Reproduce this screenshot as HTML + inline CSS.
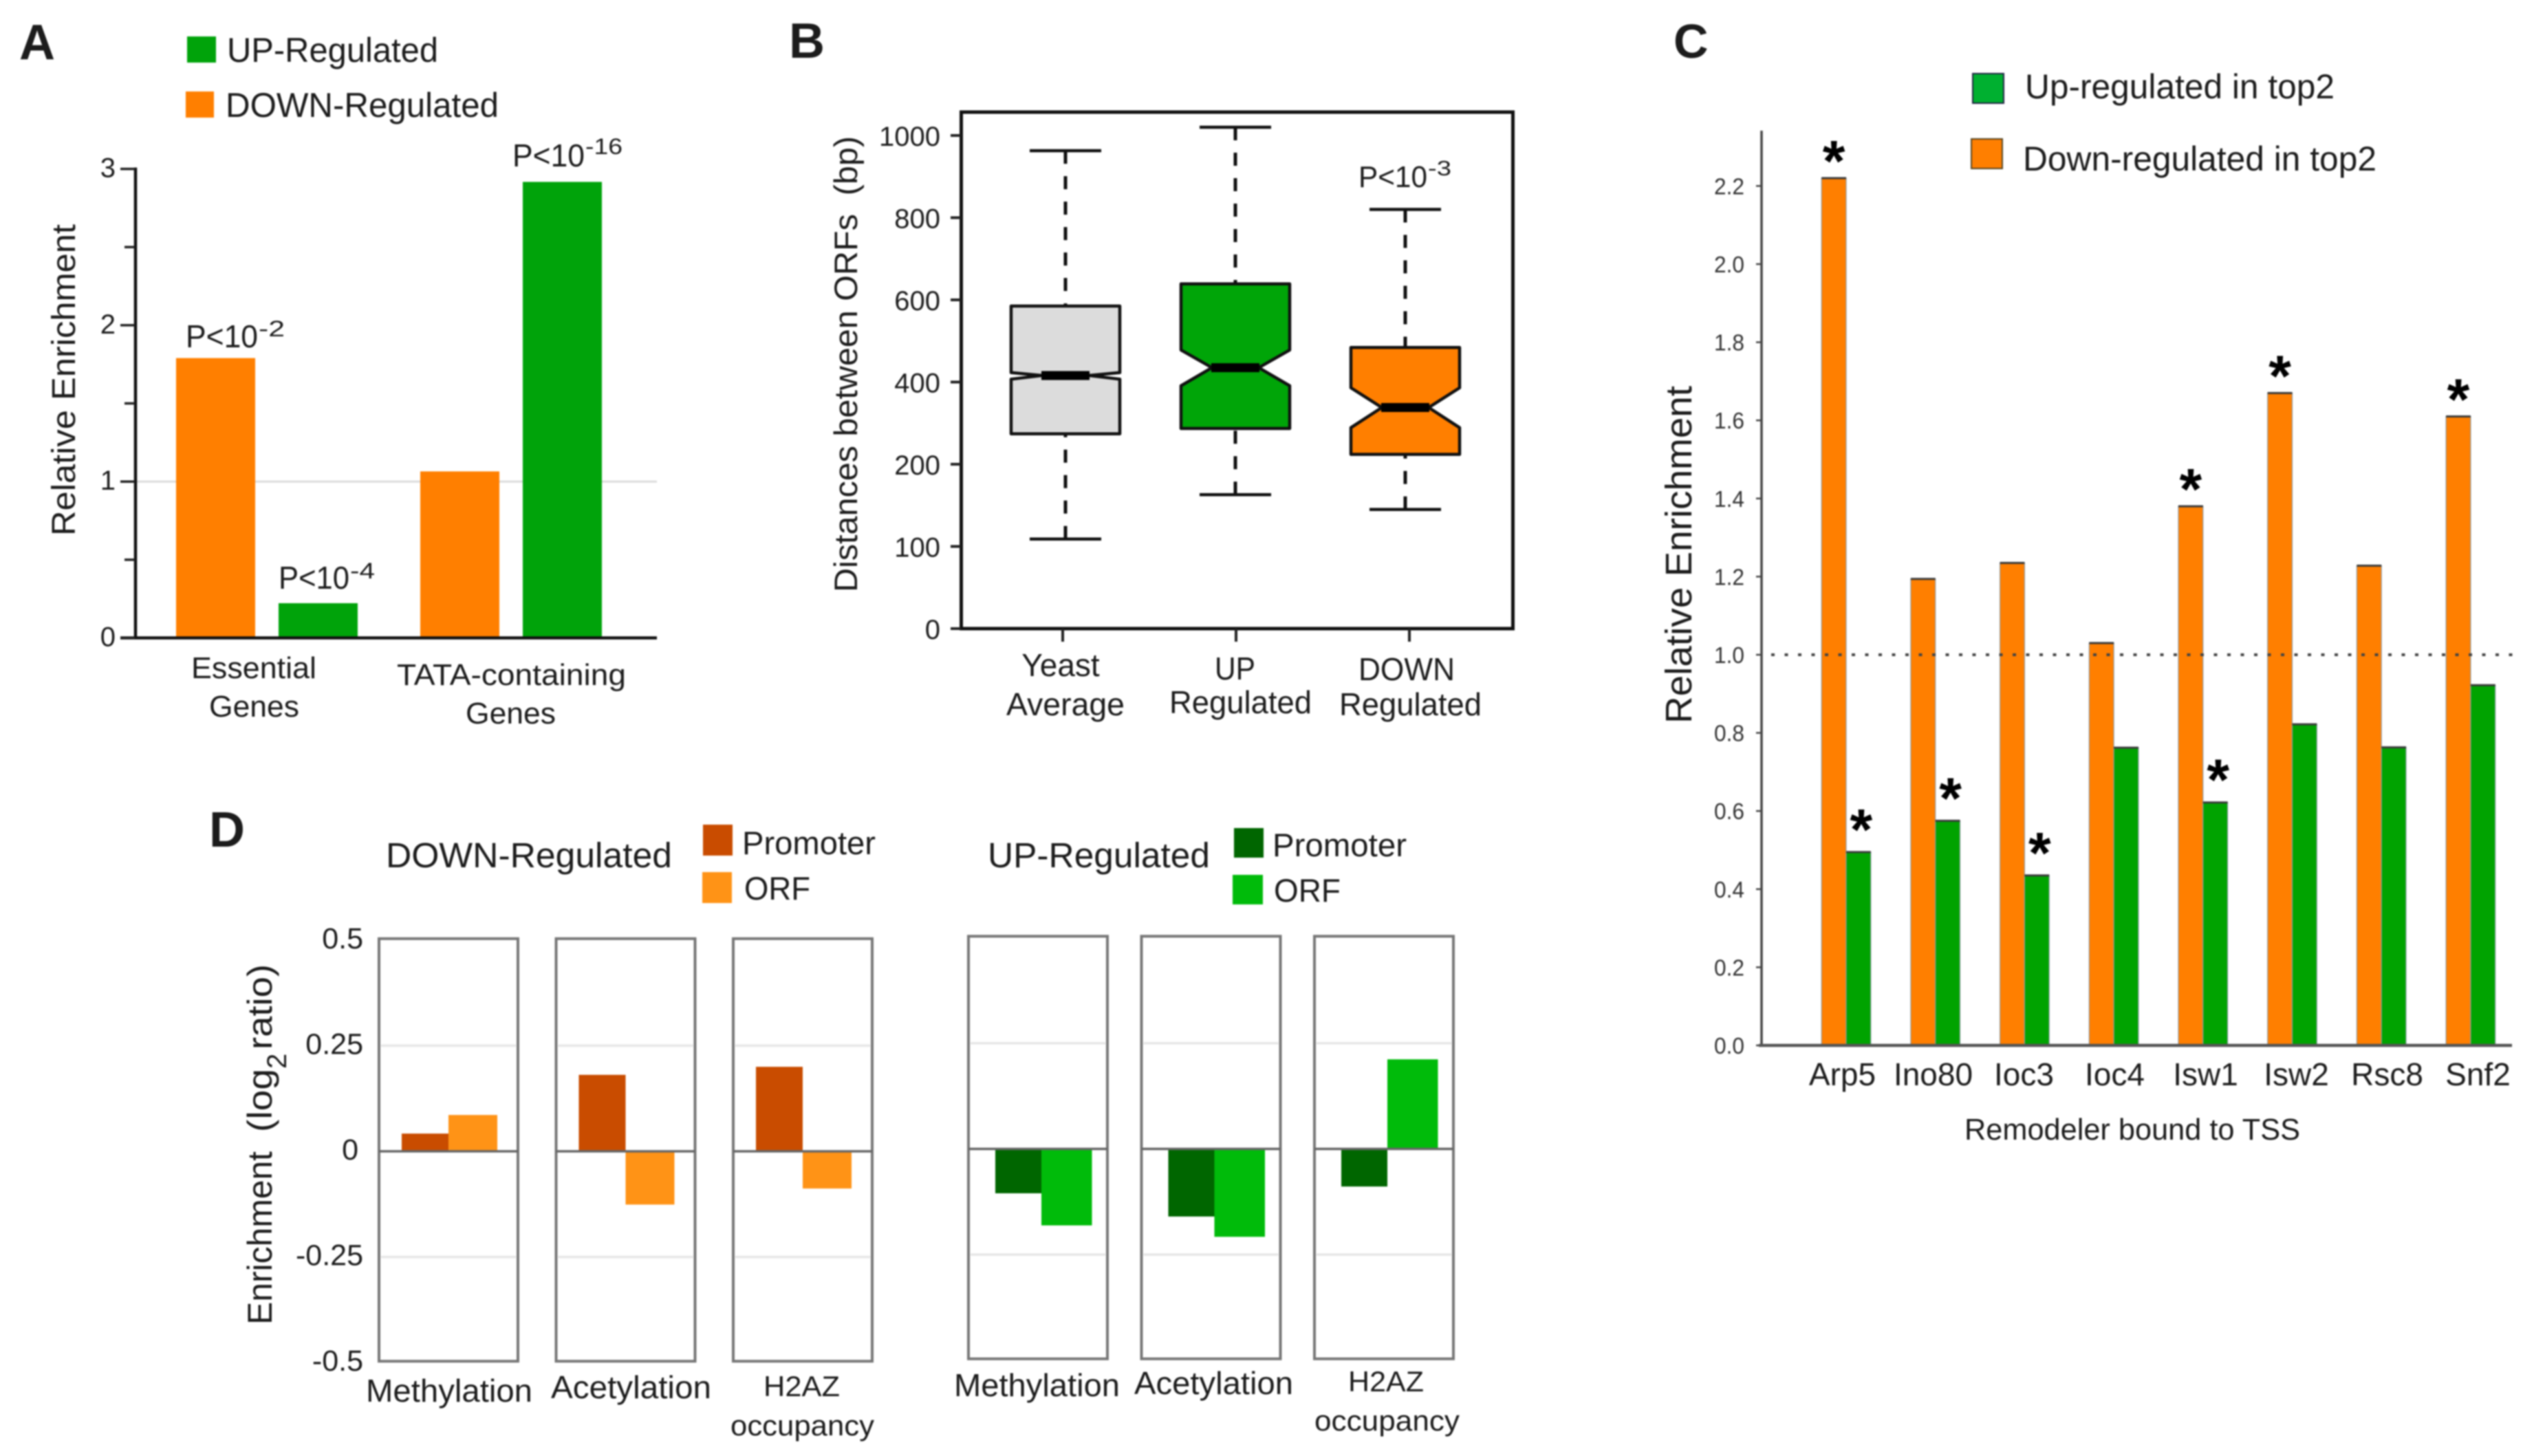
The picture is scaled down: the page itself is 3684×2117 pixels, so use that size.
<!DOCTYPE html>
<html lang="en">
<head>
<meta charset="utf-8">
<title>Multi-panel enrichment figure</title>
<style>
  html, body { margin: 0; padding: 0; background: #ffffff; }
  body { width: 3684px; height: 2117px; overflow: hidden; }
  svg { display: block; filter: blur(1.1px); }
  text { font-family: "Liberation Sans", sans-serif; fill: #1c1c1c; }
</style>
</head>
<body>
<svg id="figure" xmlns="http://www.w3.org/2000/svg" width="3684" height="2117" viewBox="0 0 3684 2117">
  <rect x="0" y="0" width="3684" height="2117" fill="#ffffff"/>

  <!-- Panel A -->
  <g id="panel-a">
    <text x="28" y="86" font-size="72" font-weight="bold" fill="#111">A</text>
    <rect x="272" y="53" width="42" height="38" fill="#00a30a"/>
    <text x="330" y="90" font-size="50" textLength="307" lengthAdjust="spacingAndGlyphs">UP-Regulated</text>
    <rect x="270" y="133" width="41" height="38" fill="#ff7f00"/>
    <text x="328" y="170" font-size="50" textLength="397" lengthAdjust="spacingAndGlyphs">DOWN-Regulated</text>
    <text transform="translate(109,779) rotate(-90)" font-size="48" textLength="453" lengthAdjust="spacingAndGlyphs">Relative Enrichment</text>
    <g id="a-plot"></g>
    <g>
      <text x="270" y="505" font-size="46" textLength="105" lengthAdjust="spacingAndGlyphs">P&lt;10</text>
      <text x="376" y="489" font-size="32" textLength="38" lengthAdjust="spacingAndGlyphs">-2</text>
    </g>
    <g>
      <text x="405" y="856" font-size="46" textLength="103" lengthAdjust="spacingAndGlyphs">P&lt;10</text>
      <text x="509" y="841" font-size="32" textLength="36" lengthAdjust="spacingAndGlyphs">-4</text>
    </g>
    <g>
      <text x="745" y="242" font-size="46" textLength="105" lengthAdjust="spacingAndGlyphs">P&lt;10</text>
      <text x="851" y="224" font-size="32" textLength="54" lengthAdjust="spacingAndGlyphs">-16</text>
    </g>
    <text x="278" y="986" font-size="44" textLength="182" lengthAdjust="spacingAndGlyphs">Essential</text>
    <text x="304" y="1042" font-size="44" textLength="131" lengthAdjust="spacingAndGlyphs">Genes</text>
    <text x="577" y="996" font-size="44" textLength="333" lengthAdjust="spacingAndGlyphs">TATA-containing</text>
    <text x="677" y="1052" font-size="44" textLength="131" lengthAdjust="spacingAndGlyphs">Genes</text>
  </g>

  <!-- Panel B -->
  <g id="panel-b">
    <text x="1147" y="84" font-size="72" font-weight="bold" fill="#111">B</text>
    <text transform="translate(1246,861) rotate(-90)" font-size="47" textLength="663" lengthAdjust="spacingAndGlyphs" xml:space="preserve">Distances between ORFs  (bp)</text>
    <g id="b-plot"></g>
    <g>
      <text x="1975" y="272" font-size="44" textLength="100" lengthAdjust="spacingAndGlyphs">P&lt;10</text>
      <text x="2076" y="255" font-size="31" textLength="34" lengthAdjust="spacingAndGlyphs">-3</text>
    </g>
    <text x="1542" y="983" font-size="46" text-anchor="middle">Yeast</text>
    <text x="1463" y="1040" font-size="46" textLength="172" lengthAdjust="spacingAndGlyphs">Average</text>
    <text x="1766" y="988" font-size="46" textLength="59" lengthAdjust="spacingAndGlyphs">UP</text>
    <text x="1700" y="1037" font-size="46" textLength="207" lengthAdjust="spacingAndGlyphs">Regulated</text>
    <text x="1975" y="989" font-size="46" textLength="140" lengthAdjust="spacingAndGlyphs">DOWN</text>
    <text x="1947" y="1040" font-size="46" textLength="207" lengthAdjust="spacingAndGlyphs">Regulated</text>
  </g>

  <!-- Panel C -->
  <g id="panel-c">
    <text x="2433" y="84" font-size="70" font-weight="bold" fill="#111">C</text>
    <rect x="2868" y="107" width="45" height="43" fill="#00b030" stroke="#224" stroke-width="2"/>
    <text x="2944" y="143" font-size="50" textLength="450" lengthAdjust="spacingAndGlyphs">Up-regulated in top2</text>
    <rect x="2866" y="202" width="45" height="43" fill="#ff7f00" stroke="#542" stroke-width="2"/>
    <text x="2941" y="248" font-size="50" textLength="514" lengthAdjust="spacingAndGlyphs">Down-regulated in top2</text>
    <text transform="translate(2459,1052) rotate(-90)" font-size="54" textLength="491" lengthAdjust="spacingAndGlyphs">Relative Enrichment</text>
    <g id="c-plot"></g>
    <text x="2856" y="1657" font-size="44" textLength="488" lengthAdjust="spacingAndGlyphs">Remodeler bound to TSS</text>
  </g>

  <!-- Panel D -->
  <g id="panel-d">
    <text x="304" y="1231" font-size="72" font-weight="bold" fill="#111">D</text>
    <text x="561" y="1261" font-size="51" textLength="416" lengthAdjust="spacingAndGlyphs">DOWN-Regulated</text>
    <rect x="1022" y="1199" width="43" height="45" fill="#c94c00"/>
    <text x="1079" y="1242" font-size="47" textLength="194" lengthAdjust="spacingAndGlyphs">Promoter</text>
    <rect x="1021" y="1268" width="43" height="45" fill="#ff9316"/>
    <text x="1082" y="1308" font-size="47" textLength="96" lengthAdjust="spacingAndGlyphs">ORF</text>
    <text x="1436" y="1261" font-size="51" textLength="323" lengthAdjust="spacingAndGlyphs">UP-Regulated</text>
    <rect x="1794" y="1204" width="43" height="43" fill="#006600"/>
    <text x="1850" y="1245" font-size="47" textLength="195" lengthAdjust="spacingAndGlyphs">Promoter</text>
    <rect x="1792" y="1272" width="44" height="43" fill="#00bb0a"/>
    <text x="1852" y="1311" font-size="47" textLength="97" lengthAdjust="spacingAndGlyphs">ORF</text>

    <g>
      <text transform="translate(395,1926) rotate(-90)" font-size="50" textLength="252" lengthAdjust="spacingAndGlyphs">Enrichment</text>
      <text transform="translate(395,1646) rotate(-90)" font-size="50" textLength="92" lengthAdjust="spacingAndGlyphs">(log</text>
      <text transform="translate(416,1554) rotate(-90)" font-size="40">2</text>
      <text transform="translate(395,1526) rotate(-90)" font-size="50" textLength="124" lengthAdjust="spacingAndGlyphs">ratio)</text>
    </g>

    <g id="d-down-plot"></g>
    <g id="d-up-plot"></g>

    <text x="532" y="2038" font-size="46" textLength="242" lengthAdjust="spacingAndGlyphs">Methylation</text>
    <text x="801" y="2033" font-size="46" textLength="233" lengthAdjust="spacingAndGlyphs">Acetylation</text>
    <text x="1110" y="2030" font-size="42" textLength="111" lengthAdjust="spacingAndGlyphs">H2AZ</text>
    <text x="1062" y="2087" font-size="42" textLength="209" lengthAdjust="spacingAndGlyphs">occupancy</text>
    <text x="1387" y="2030" font-size="46" textLength="241" lengthAdjust="spacingAndGlyphs">Methylation</text>
    <text x="1649" y="2027" font-size="46" textLength="231" lengthAdjust="spacingAndGlyphs">Acetylation</text>
    <text x="1960" y="2023" font-size="42" textLength="110" lengthAdjust="spacingAndGlyphs">H2AZ</text>
    <text x="1911" y="2080" font-size="42" textLength="211" lengthAdjust="spacingAndGlyphs">occupancy</text>
  </g>
</svg>

<script>
// ---------- Panel A data ----------
const aTicks = [0, 0.5, 1, 1.5, 2, 2.5, 3];
const aTickLabels = ['0', '', '1', '', '2', '', '3'];
const aCategories = ['Essential', 'TATA-containing'];
const aDownValues = [1.79, 1.065];
const aUpValues = [0.222, 2.917];

// ---------- Panel B data ----------
const bTicks = [0, 100, 200, 400, 600, 800, 1000];
const bTickLabels = ['0', '100', '200', '400', '600', '800', '1000'];
const bCategories = ['yeast-average', 'up-regulated', 'down-regulated'];
const bWhiskerHigh = [963, 1020, 820];
const bQ3 = [585, 639, 484];
const bNotchHigh = [423, 478, 386];
const bMedian = [416, 435, 338];
const bNotchLow = [407, 391, 289];
const bQ1 = [274, 287, 224];
const bWhiskerLow = [109, 163, 145];

// ---------- Panel C data ----------
const cTicks = [0, 0.2, 0.4, 0.6, 0.8, 1.0, 1.2, 1.4, 1.6, 1.8, 2.0, 2.2];
const cTickLabels = ['0.0', '0.2', '0.4', '0.6', '0.8', '1.0', '1.2', '1.4', '1.6', '1.8', '2.0', '2.2'];
const cCategories = ['Arp5', 'Ino80', 'Ioc3', 'Ioc4', 'Isw1', 'Isw2', 'Rsc8', 'Snf2'];
const cDownValues = [2.22, 1.194, 1.235, 1.03, 1.38, 1.67, 1.228, 1.61];
const cUpValues = [0.495, 0.575, 0.435, 0.762, 0.622, 0.822, 0.763, 0.922];
const cDownSignificant = [true, false, false, false, true, true, false, true];
const cUpSignificant = [true, true, true, false, true, false, false, false];
const cReference = 1.0;

// ---------- Panel D data ----------
const dTicks = [0.5, 0.25, 0, -0.25, -0.5];
const dTickLabels = ['0.5', '0.25', '0', '-0.25', '-0.5'];
const dCategories = ['methylation', 'acetylation', 'h2az-occupancy'];
const dDownPromoter = [0.042, 0.181, 0.2];
const dDownOrf = [0.086, -0.126, -0.088];
const dUpPromoter = [-0.105, -0.16, -0.089];
const dUpOrf = [-0.181, -0.208, 0.212];

// ---------- Helpers ----------
const NS = 'http://www.w3.org/2000/svg';
function make(tag, parent, props, content) {
  const el = document.createElementNS(NS, tag);
  for (const k in props) el.setAttribute(k, props[k]);
  if (content !== undefined) el.textContent = content;
  parent.appendChild(el);
  return el;
}

// ---------- Panel A ----------
const aPlot = document.getElementById('a-plot');
const aY = v => 927.5 - v * 227.3;
const aGroupX = i => 256 + i * 355;
const aL = make('line', aPlot, {x1: 196, x2: 955, y1: aY(1), y2: aY(1), stroke: '#dcdcdc', 'stroke-width': 3});


aCategories.forEach((c, i) => {
  const x0 = aGroupX(i);
  const down = make('rect', aPlot, {x: x0, y: aY(aDownValues[i]), width: 115, height: aY(0) - aY(aDownValues[i]), fill: '#ff7f00'});
  
  
  const up = make('rect', aPlot, {x: x0 + 149, y: aY(aUpValues[i]), width: 115, height: aY(0) - aY(aUpValues[i]), fill: '#00a30a'});
  
  
});
const aAxisY = make('line', aPlot, {x1: 197, x2: 197, y1: aY(3) - 2, y2: aY(0) + 2, stroke: '#111', 'stroke-width': 4.5});


const aAxisX = make('line', aPlot, {x1: 175, x2: 955, y1: aY(0), y2: aY(0), stroke: '#111', 'stroke-width': 4.5});


aTicks.forEach((t, i) => {
  const major = aTickLabels[i] !== '';
  const tk = make('line', aPlot, {x1: major ? 175 : 181, x2: 196, y1: aY(t), y2: aY(t), stroke: '#222', 'stroke-width': 3.5});
  
  
  if (major) {
    const lb = make('text', aPlot, {x: 168, y: aY(t) + 12, 'font-size': 40, 'text-anchor': 'end'}, aTickLabels[i]);
    
    
  }
});

// ---------- Panel B ----------
const bPlot = document.getElementById('b-plot');
const bStep = 119.5;
function bY(v) {
  let i = 0;
  while (i < bTicks.length - 2 && v > bTicks[i + 1]) i++;
  const t = (v - bTicks[i]) / (bTicks[i + 1] - bTicks[i]);
  return 914 - (i + t) * bStep;
}
const bX = i => 1549 + 247 * i;
const bTickX = i => 1545 + 252 * i;
const bFills = ['#dcdcdc', '#00a508', '#ff7f00'];
const bFrame = make('rect', bPlot, {x: 1397.5, y: 163, width: 802, height: 751, fill: 'none', stroke: '#111', 'stroke-width': 5});


bTicks.forEach((t, i) => {
  const tk = make('line', bPlot, {x1: 1382, x2: 1397, y1: bY(t), y2: bY(t), stroke: '#222', 'stroke-width': 4});
  
  
  const lb = make('text', bPlot, {x: 1367, y: bY(t) + 15, 'font-size': 40, 'text-anchor': 'end'}, bTickLabels[i]);
  
  
});
bCategories.forEach((c, i) => {
  const cx = bX(i);
  const boxHalf = 79, notchHalf = 34, capHalf = 52;
  const tk = make('line', bPlot, {x1: bTickX(i), x2: bTickX(i), y1: 914, y2: 933, stroke: '#222', 'stroke-width': 4});
  
  
  const wu = make('line', bPlot, {x1: cx, x2: cx, y1: bY(bWhiskerHigh[i]), y2: bY(bQ3[i]), stroke: '#111', 'stroke-width': 5, 'stroke-dasharray': '19 18'});
  
  
  const wl = make('line', bPlot, {x1: cx, x2: cx, y1: bY(bWhiskerLow[i]), y2: bY(bQ1[i]), stroke: '#111', 'stroke-width': 5, 'stroke-dasharray': '19 18'});
  
  
  const cu = make('line', bPlot, {x1: cx - capHalf, x2: cx + capHalf, y1: bY(bWhiskerHigh[i]), y2: bY(bWhiskerHigh[i]), stroke: '#111', 'stroke-width': 4.5});
  
  
  const cl = make('line', bPlot, {x1: cx - capHalf, x2: cx + capHalf, y1: bY(bWhiskerLow[i]), y2: bY(bWhiskerLow[i]), stroke: '#111', 'stroke-width': 4.5});
  
  
  const L = cx - boxHalf, R = cx + boxHalf, nl = cx - notchHalf, nr = cx + notchHalf;
  const d = ['M', L, bY(bQ3[i]), 'L', R, bY(bQ3[i]), 'L', R, bY(bNotchHigh[i]), 'L', nr, bY(bMedian[i]),
             'L', R, bY(bNotchLow[i]), 'L', R, bY(bQ1[i]), 'L', L, bY(bQ1[i]), 'L', L, bY(bNotchLow[i]),
             'L', nl, bY(bMedian[i]), 'L', L, bY(bNotchHigh[i]), 'Z'].join(' ');
  const box = make('path', bPlot, {d: d, fill: bFills[i], stroke: '#111', 'stroke-width': 4.5, 'stroke-linejoin': 'round'});
  
  
  const med = make('line', bPlot, {x1: nl - 1, x2: nr + 1, y1: bY(bMedian[i]), y2: bY(bMedian[i]), stroke: '#000', 'stroke-width': 13});
  
  
});

// ---------- Panel C ----------
const cPlot = document.getElementById('c-plot');
const cY = v => 1520 - v * 568;
const cX = i => 2684 + 129.7 * i;
const cLabelX = i => 2678.5 + 132 * i;
const cBarW = 35.8;
cTicks.forEach((t, i) => {
  const tk = make('line', cPlot, {x1: 2553, x2: 2560, y1: cY(t), y2: cY(t), stroke: '#444', 'stroke-width': 2.5});
  
  
  const lb = make('text', cPlot, {x: 2536, y: cY(t) + 12, 'font-size': 33, 'text-anchor': 'end', style: 'fill:#333', textLength: 44, lengthAdjust: 'spacingAndGlyphs'}, cTickLabels[i]);
  
  
});
function cBar(parent, x, v, fill, name) {
  const r = make('rect', parent, {x: x, y: cY(v), width: cBarW, height: cY(0) - cY(v), fill: fill, stroke: '#8a9aa5', 'stroke-width': 1.2});
  
  
  const cap = make('line', parent, {x1: x, x2: x + cBarW, y1: cY(v), y2: cY(v), stroke: '#3a3a3a', 'stroke-width': 3});
  
  
}
cCategories.forEach((c, i) => {
  const n = c.toLowerCase();
  cBar(cPlot, cX(i) - cBarW, cDownValues[i], '#ff7f00', 'bar-down-' + n);
  cBar(cPlot, cX(i), cUpValues[i], '#00a300', 'bar-up-' + n);
  const lb = make('text', cPlot, {x: cLabelX(i), y: 1578, 'font-size': 46, 'text-anchor': 'middle'}, c);
  
  
  if (cDownSignificant[i]) {
    const s = make('text', cPlot, {x: cX(i) - cBarW / 2, y: cY(cDownValues[i]) + 4, 'font-size': 84, 'font-weight': 'bold', 'text-anchor': 'middle', style: 'fill:#000'}, '*');
    
    
  }
  if (cUpSignificant[i]) {
    const s = make('text', cPlot, {x: cX(i) + cBarW / 2 + 4, y: cY(cUpValues[i]) - 4, 'font-size': 84, 'font-weight': 'bold', 'text-anchor': 'middle', style: 'fill:#000'}, '*');
    
    
  }
});
const cRef = make('line', cPlot, {x1: 2575, x2: 3655, y1: cY(cReference), y2: cY(cReference), stroke: '#444', 'stroke-width': 4, 'stroke-dasharray': '5 14.5'});


const cAxisY = make('line', cPlot, {x1: 2561, x2: 2561, y1: 190, y2: cY(0), stroke: '#444', 'stroke-width': 3.5});


const cAxisX = make('line', cPlot, {x1: 2557, x2: 3652, y1: cY(0), y2: cY(0), stroke: '#555', 'stroke-width': 4.5});



// ---------- Panel D ----------
const dUnit = 614.4;
const dPanelW = 202;
function drawGroup(parent, side, originX, stepX, zeroY, promoter, orf, promoterFill, orfFill, promoterInset, midInset, endInset) {
  const y = v => zeroY - v * dUnit;
  dCategories.forEach((c, i) => {
    const left = originX + stepX * i;
    const frame = make('rect', parent, {x: left, y: y(0.5) - 2, width: dPanelW, height: y(-0.5) - y(0.5), fill: '#fff', stroke: '#777', 'stroke-width': 4});
    
    
    [0.25, -0.25].forEach(g => {
      const gl = make('line', parent, {x1: left + 3, x2: left + dPanelW - 3, y1: y(g), y2: y(g), stroke: '#e6e6e6', 'stroke-width': 3.5});
      
      
    });
    const pv = promoter[i], ov = orf[i];
    const p = make('rect', parent, {x: left + promoterInset, y: Math.min(y(pv), y(0)), width: midInset - promoterInset, height: Math.abs(y(pv) - y(0)), fill: promoterFill});
    
    
    const o = make('rect', parent, {x: left + midInset, y: Math.min(y(ov), y(0)), width: endInset - midInset, height: Math.abs(y(ov) - y(0)), fill: orfFill});
    
    
    const z = make('line', parent, {x1: left, x2: left + dPanelW, y1: y(0), y2: y(0), stroke: '#666', 'stroke-width': 3.5});
    
    
  });
}
const dDownPlot = document.getElementById('d-down-plot');
const dUpPlot = document.getElementById('d-up-plot');
drawGroup(dDownPlot, 'down', 551, 257.5, 1674, dDownPromoter, dDownOrf, '#c94c00', '#ff9316', 33, 101, 172);
drawGroup(dUpPlot, 'up', 1408, 251.5, 1670.5, dUpPromoter, dUpOrf, '#006600', '#00bb0a', 39, 106, 179.5);
dTicks.forEach((t, i) => {
  const baseY = 1674 - t * dUnit + 12;
  const lb = make('text', dDownPlot, {x: t === 0 ? 521 : 528, y: baseY, 'font-size': 43, 'text-anchor': 'end'}, dTickLabels[i]);
  
  
});
</script>
</body>
</html>
